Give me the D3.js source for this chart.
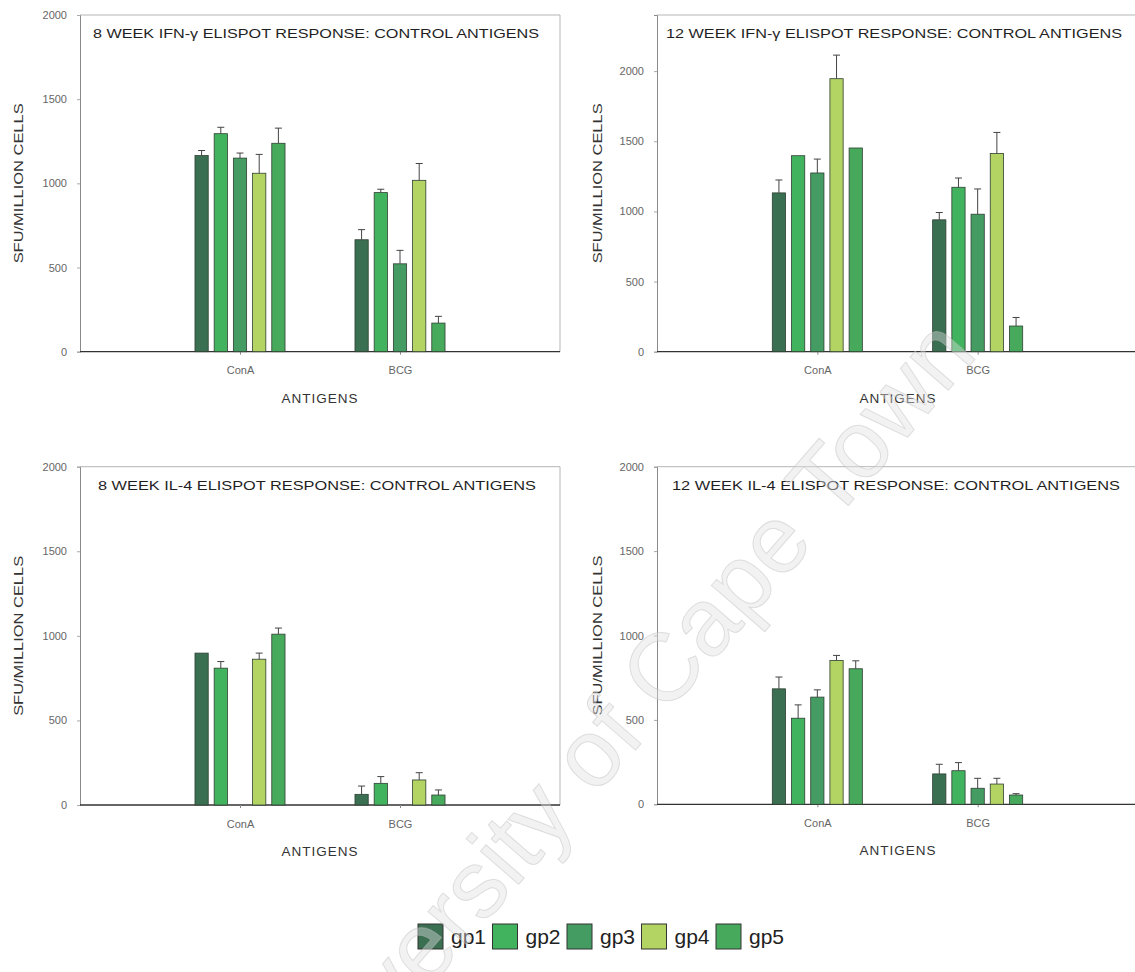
<!DOCTYPE html>
<html>
<head>
<meta charset="utf-8">
<script src="https://cdn.jsdelivr.net/npm/d3@7"></script>
<style>
  body { margin: 0; background: #fff; }
  svg { display: block; }
  text { font-family: "Liberation Sans", Arial, sans-serif; }
</style>
</head>
<body>
<svg id="fig" width="1135" height="972"></svg>
<script>
// ---- data ----
const antigens = ["ConA", "BCG"];
const groups = ["gp1", "gp2", "gp3", "gp4", "gp5"];
const groupColors = ["#3a6f52", "#41b35f", "#459c62", "#b3d463", "#47a95c"];
const yTicksStd = [0, 500, 1000, 1500, 2000];

// 8 week IFN-gamma (mean, SEM) per group
const ifn8ConA = [1165, 1295, 1150, 1060, 1238];
const ifn8ConASE = [30, 38, 30, 112, 90];
const ifn8BCG = [665, 945, 522, 1018, 170];
const ifn8BCGSE = [60, 20, 80, 100, 40];

// 12 week IFN-gamma
const ifn12ConA = [1132, 1397, 1274, 1946, 1452];
const ifn12ConASE = [92, 0, 99, 168, 0];
const ifn12BCG = [940, 1172, 980, 1413, 183];
const ifn12BCGSE = [52, 66, 180, 150, 61];

// 8 week IL-4
const il4w8ConA = [898, 809, 0, 862, 1010];
const il4w8ConASE = [0, 39, 0, 36, 36];
const il4w8BCG = [63, 128, 0, 148, 59];
const il4w8BCGSE = [49, 40, 0, 43, 30];

// 12 week IL-4
const il4w12ConA = [684, 510, 635, 852, 803];
const il4w12ConASE = [70, 79, 43, 30, 47];
const il4w12BCG = [180, 199, 95, 120, 55];
const il4w12BCGSE = [57, 48, 59, 34, 8];

const titles = [
  "8 WEEK IFN-\u03B3 ELISPOT RESPONSE: CONTROL ANTIGENS",
  "12 WEEK IFN-\u03B3 ELISPOT RESPONSE: CONTROL ANTIGENS",
  "8 WEEK IL-4 ELISPOT RESPONSE: CONTROL ANTIGENS",
  "12 WEEK IL-4 ELISPOT RESPONSE: CONTROL ANTIGENS"
];
const yAxisTitle = "SFU/MILLION CELLS";
const xAxisTitle = "ANTIGENS";
const watermark = "University of Cape Town";

// ---- layout ----
const panels = [
  { title: titles[0], mean: [ifn8ConA, ifn8BCG], se: [ifn8ConASE, ifn8BCGSE], yMax: 2000,
    left: 80, right: 560, top: 15, bottom: 351.7, titleX: 93, titleW: 446, ylabX: 23, xlabX: 320 },
  { title: titles[1], mean: [ifn12ConA, ifn12BCG], se: [ifn12ConASE, ifn12BCGSE], yMax: 2400,
    left: 657, right: 1138, top: 15, bottom: 351.7, titleX: 666, titleW: 456, ylabX: 602, xlabX: 898 },
  { title: titles[2], mean: [il4w8ConA, il4w8BCG], se: [il4w8ConASE, il4w8BCGSE], yMax: 2000,
    left: 80, right: 560, top: 466.7, bottom: 805, titleX: 98, titleW: 438, ylabX: 23, xlabX: 320 },
  { title: titles[3], mean: [il4w12ConA, il4w12BCG], se: [il4w12ConASE, il4w12BCGSE], yMax: 2000,
    left: 657, right: 1138, top: 466.7, bottom: 804.3, titleX: 672, titleW: 448, ylabX: 602, xlabX: 898 }
];

const svg = d3.select("#fig");
const fontFam = "\"Liberation Sans\", Arial, sans-serif";

panels.forEach(p => {
  const g = svg.append("g");
  const x = d3.scalePoint().domain(antigens).range([p.left, p.right]).padding(1);
  const xg = d3.scaleBand().domain(groups).range([-48, 48]).paddingInner(0.31).paddingOuter(0.155);
  const y = d3.scaleLinear().domain([0, p.yMax]).range([p.bottom, p.top]);

  // frame (top and right edges)
  g.append("path")
    .attr("d", `M${p.left},${p.top}H${p.right}V${p.bottom}`)
    .attr("fill", "none").attr("stroke", "#b5b5b5").attr("stroke-width", 1);

  // y axis
  const yAxis = d3.axisLeft(y).tickValues(yTicksStd).tickFormat(d3.format("d"))
    .tickSize(3).tickPadding(10);
  const ya = g.append("g").attr("transform", `translate(${p.left},0)`).call(yAxis);
  ya.select(".domain").attr("stroke", "#8a8a8a");
  ya.selectAll(".tick line").attr("stroke", "#aaa");
  ya.selectAll(".tick text").attr("font-size", 11).attr("fill", "#666")
    .attr("font-family", fontFam);

  // x axis
  const xAxis = d3.axisBottom(x).tickSize(3).tickPadding(12);
  const xa = g.append("g").attr("transform", `translate(0,${p.bottom})`).call(xAxis);
  xa.select(".domain").attr("stroke", "#333").attr("stroke-width", 1.3)
    .attr("d", `M${p.left},0H${p.right}`);
  xa.selectAll(".tick line").attr("stroke", "#888");
  xa.selectAll(".tick text").attr("font-size", 11).attr("fill", "#666")
    .attr("font-family", fontFam);

  // bars and error bars
  antigens.forEach((a, ai) => {
    const cg = g.append("g").attr("transform", `translate(${x(a)},0)`);
    const rows = groups.map((gp, gi) => ({ gp, gi, v: p.mean[ai][gi], e: p.se[ai][gi] }));
    const drawn = rows.filter(d => d.v > 0);
    cg.selectAll("rect").data(drawn).join("rect")
      .attr("x", d => xg(d.gp))
      .attr("width", xg.bandwidth())
      .attr("y", d => y(d.v))
      .attr("height", d => y(0) - y(d.v))
      .attr("fill", d => groupColors[d.gi])
      .attr("stroke", "#2f3f33").attr("stroke-width", 0.8);
    const withErr = drawn.filter(d => d.e > 0);
    cg.selectAll("path.err").data(withErr).join("path").attr("class", "err")
      .attr("d", d => {
        const cx = xg(d.gp) + xg.bandwidth() / 2;
        return `M${cx},${y(d.v)}V${y(d.v + d.e)}M${cx - 3.5},${y(d.v + d.e)}H${cx + 3.5}`;
      })
      .attr("fill", "none").attr("stroke", "#444").attr("stroke-width", 1);
  });

  // panel title
  g.append("text")
    .attr("x", p.titleX).attr("y", p.top + 23)
    .attr("textLength", p.titleW).attr("lengthAdjust", "spacingAndGlyphs")
    .attr("font-size", 13.5).attr("fill", "#1f1f1f")
    .text(p.title);

  // axis titles
  g.append("text")
    .attr("transform", `translate(${p.ylabX},${(p.top + p.bottom) / 2}) rotate(-90)`)
    .attr("text-anchor", "middle").attr("font-size", 13.5).attr("fill", "#333")
    .attr("textLength", 160).attr("lengthAdjust", "spacingAndGlyphs")
    .text(yAxisTitle);
  g.append("text")
    .attr("x", p.xlabX)
    .attr("y", p.bottom + 51)
    .attr("text-anchor", "middle").attr("font-size", 13.5).attr("fill", "#333")
    .attr("letter-spacing", 1)
    .text(xAxisTitle);
});

// ---- legend ----
const legend = svg.append("g").attr("transform", "translate(418,924)");
const item = legend.selectAll("g").data(groups).join("g")
  .attr("transform", (d, i) => `translate(${i * 74.5},0)`);
item.append("rect").attr("width", 25).attr("height", 25)
  .attr("fill", (d, i) => groupColors[i]).attr("stroke", "#333").attr("stroke-width", 1);
item.append("text").attr("x", 33).attr("y", 20)
  .attr("font-size", 21).attr("fill", "#222").text(d => d);

// ---- watermark ----
svg.append("text")
  .attr("transform", "translate(640,745) rotate(-49)")
  .attr("text-anchor", "middle").attr("font-size", 96)
  .attr("fill", "rgba(225,225,225,0.42)")
  .attr("stroke", "rgba(185,185,185,0.42)").attr("stroke-width", 1)
  .text(watermark);
</script>
</body>
</html>
